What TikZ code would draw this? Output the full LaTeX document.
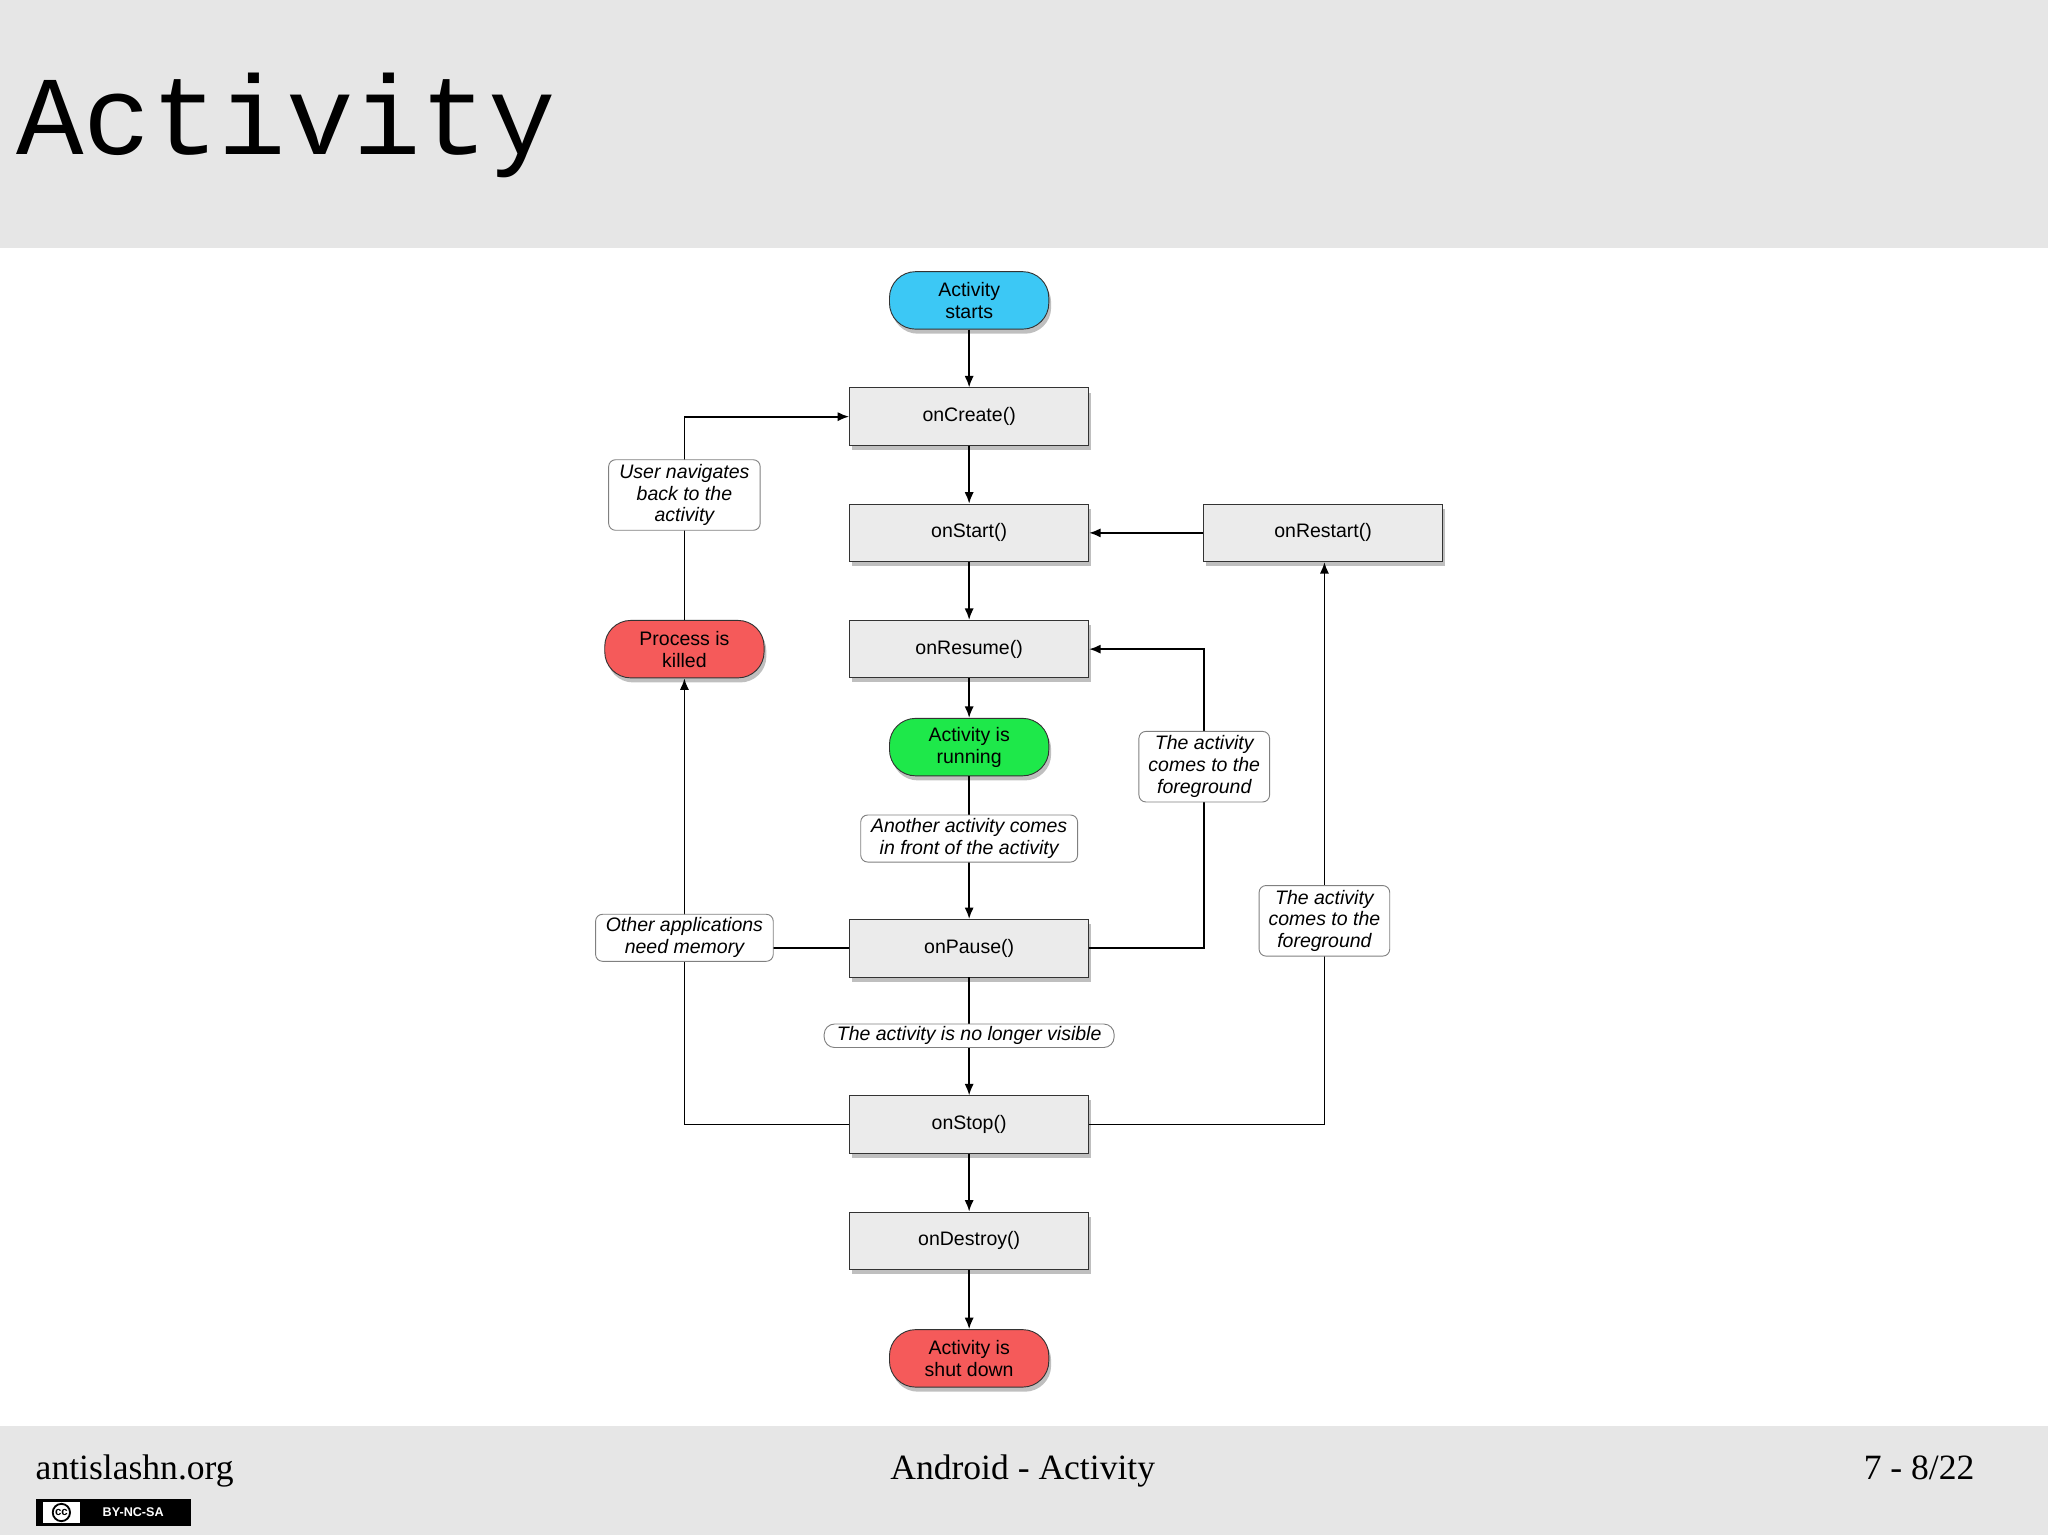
\documentclass[tikz,border=0pt]{standalone}
\usepackage{fontspec}
\setmainfont{Liberation Serif}
\newfontfamily\dsans{Liberation Sans}
\newfontfamily\dmono{Liberation Mono}
\usetikzlibrary{shadows,arrows.meta}
\definecolor{hdr}{HTML}{E6E6E6}
\definecolor{boxg}{HTML}{EBEBEB}
\definecolor{cyanA}{HTML}{3CC8F5}
\definecolor{greenA}{HTML}{1EE84A}
\definecolor{redA}{HTML}{F55A5A}
\begin{document}
\begin{tikzpicture}[x=0.02cm,y=-0.02cm,
  font=\dsans\fontsize{8.5}{9.5}\selectfont,
  box/.style={draw=black!80,fill=boxg,minimum width=183*0.02cm,minimum height=44*0.02cm,drop shadow={opacity=0.5,shadow xshift=1pt,shadow yshift=-2pt}},
  term/.style={draw=black!80,rounded corners=20*0.02cm,minimum width=122*0.02cm,minimum height=44*0.02cm,align=center,inner sep=1pt,drop shadow={opacity=0.5,shadow xshift=1pt,shadow yshift=-2pt}},
  lab/.style={draw=black!50,fill=white,rounded corners=3pt,align=center,inner sep=1.5pt,font=\dsans\itshape\fontsize{8.5}{9.5}\selectfont},
  ar/.style={-{Latex[length=5pt,width=4pt]},thick},
  ln/.style={thick}]
\useasboundingbox (0,0) rectangle (1568,1175);
\fill[hdr] (0,0) rectangle (1568,190);
\fill[hdr] (0,1092) rectangle (1568,1175);
\node[anchor=base west,inner sep=0,font=\dmono\fontsize{49}{52}\selectfont] (title) at (12,118) {Activity};
% nodes
\node[term,fill=cyanA] (start) at (742,230) {Activity\\starts};
\node[box] (create) at (742,319) {onCreate()};
\node[box] (startm) at (742,408) {onStart()};
\node[box] (restart) at (1013,408) {onRestart()};
\node[box] (resume) at (742,497) {onResume()};
\node[term,fill=greenA] (running) at (742,572) {Activity is\\running};
\node[box] (pause) at (742,726) {onPause()};
\node[box] (stop) at (742,861) {onStop()};
\node[box] (destroy) at (742,950) {onDestroy()};
\node[term,fill=redA] (shut) at (742,1040) {Activity is\\shut down};
\node[term,fill=redA] (killed) at (524,497) {Process is\\killed};
\coordinate (c2) at (922,726);
\coordinate (c3) at (922,497);
\coordinate (c4) at (1014,861);
\coordinate (c5) at (524,861);
\coordinate (c6) at (524,726);
% connectors
\draw[ar] (start) -- (create);
\draw[ar] (create) -- (startm);
\draw[ar] (startm) -- (resume);
\draw[ar] (resume) -- (running);
\draw[ar] (running) -- (pause);
\draw[ar] (pause) -- (stop);
\draw[ar] (stop) -- (destroy);
\draw[ar] (destroy) -- (shut);
\draw[ar] (restart) -- (startm);
\draw[ar] (pause.east) -- (c2) -- (c3) -- (resume.east);
\draw[ar] (stop.east) -- (c4) -- (restart.south -| c4);
\draw[ar] (stop.west) -- (c5) -- (killed.south);
\draw[ln] (pause.west) -- (c6);
\draw[ar] (killed.north) |- (create.west);
% labels
\node[lab,minimum width=116*0.02cm,minimum height=54*0.02cm] (l1) at (524,379) {User navigates\\back to the\\activity};
\node[lab,minimum width=166*0.02cm,minimum height=36*0.02cm] (l2) at (742,642) {Another activity comes\\in front of the activity};
\node[lab,minimum width=100*0.02cm,minimum height=54*0.02cm] (l3) at (922,587) {The activity\\comes to the\\foreground};
\node[lab,minimum width=100*0.02cm,minimum height=54*0.02cm] (l4) at (1014,705) {The activity\\comes to the\\foreground};
\node[lab,minimum width=136*0.02cm,minimum height=36*0.02cm] (l5) at (524,718) {Other applications\\need memory};
\node[lab,rounded corners=8*0.02cm,minimum width=222*0.02cm,minimum height=18*0.02cm,inner sep=0.5pt] (l6) at (742,793) {The activity is no longer visible};
% footer
\node[anchor=base west,inner sep=0,font=\fontsize{15.5}{17}\selectfont] (f1) at (27,1133) {antislashn.org};
\node[anchor=base,inner sep=0,font=\fontsize{15.5}{17}\selectfont] (f2) at (783,1133) {Android - Activity};
\node[anchor=base east,inner sep=0,font=\fontsize{15.5}{17}\selectfont] (f3) at (1512,1133) {7 - 8/22};
\node[draw=black,fill=black,minimum width=118*0.02cm,minimum height=20*0.02cm,inner sep=0] (cc) at (87,1158) {};
\draw[white,fill=white] (33,1150) rectangle (61,1166);
\node[circle,draw=black,thick,inner sep=0.5pt,font=\dsans\bfseries\fontsize{5}{5}\selectfont] (ccl) at (47,1158) {cc};
\node[text=white,font=\dsans\bfseries\fontsize{5.5}{6}\selectfont] (cct) at (102,1158) {BY-NC-SA};
\end{tikzpicture}
\end{document}
